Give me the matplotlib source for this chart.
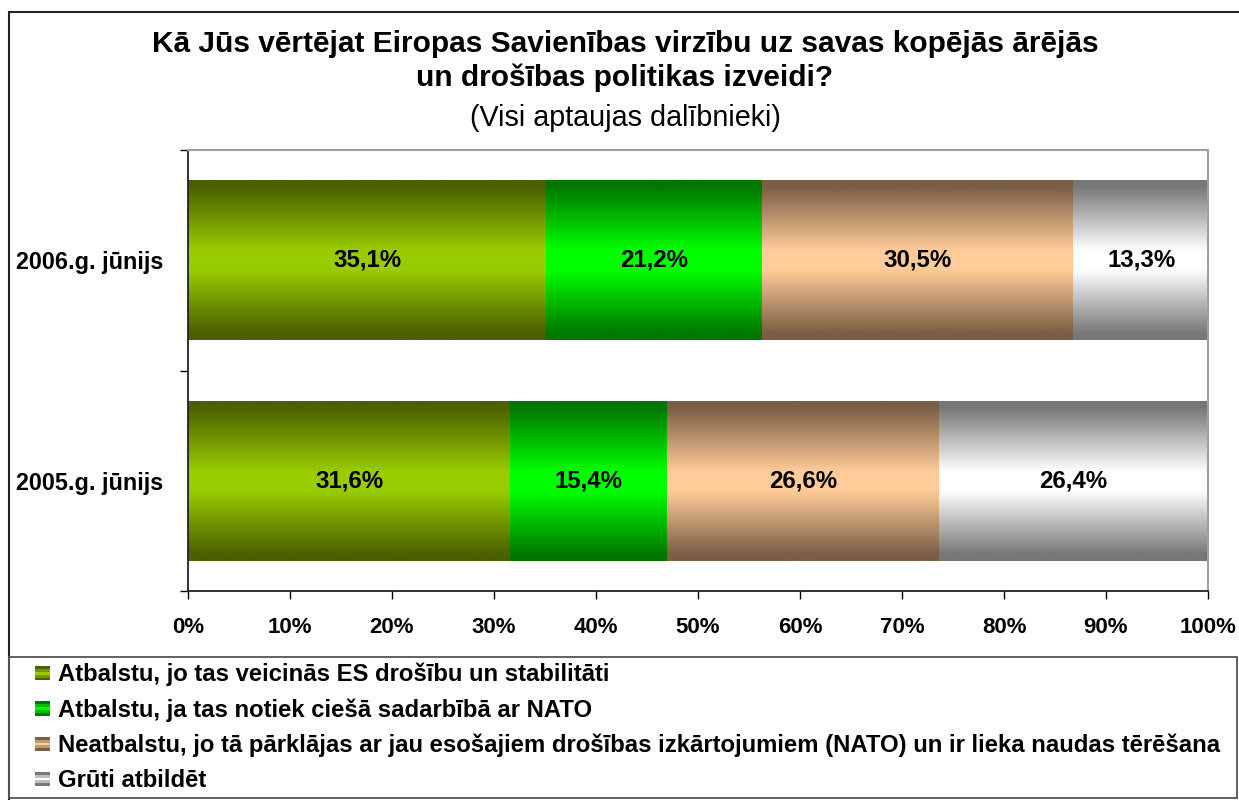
import numpy as np
import matplotlib
matplotlib.use('Agg')
import matplotlib.pyplot as plt
from matplotlib.colors import to_rgb
from matplotlib.patches import Rectangle
from matplotlib.legend_handler import HandlerBase

plt.rcParams['font.family'] = ['Liberation Sans', 'DejaVu Sans']

periods = ['2005.g. jūnijs', '2006.g. jūnijs']
answers = ['Atbalstu, jo tas veicinās ES drošību un stabilitāti',
           'Atbalstu, ja tas notiek ciešā sadarbībā ar NATO',
           'Neatbalstu, jo tā pārklājas ar jau esošajiem drošības izkārtojumiem (NATO) un ir lieka naudas tērēšana',
           'Grūti atbildēt']
values = [[31.6, 35.1],
          [15.4, 21.2],
          [26.6, 30.5],
          [26.4, 13.3]]
edge_colors = ['#4b6000', '#007700', '#7a5e45', '#777777']
mid_colors = ['#99cc00', '#00ff00', '#ffcc99', '#ffffff']

W, H = 1239, 800


def gradient(edge, mid, n=256):
    # dark at top/bottom, light in the middle
    t = np.abs(np.linspace(-1, 1, n))
    s = np.clip((t - 0.12) / 0.8, 0, 1)[:, None]
    e = np.array(to_rgb(edge))
    m = np.array(to_rgb(mid))
    return (m + (e - m) * s)[:, None, :]


class StripeHandler(HandlerBase):
    def __init__(self, edge, mid):
        super().__init__()
        self.edge = edge
        self.mid = mid

    def create_artists(self, legend, orig, x0, y0, width, height, fontsize, trans):
        g = gradient(self.edge, self.mid, 5)[:, 0, :]
        side = 10.5
        arts = []
        for i, c in enumerate(g):
            r = Rectangle((x0, y0 + (height - side) / 2 + i * side / 5), side, side / 5,
                          facecolor=c, edgecolor='none', transform=trans)
            arts.append(r)
        return arts


fig = plt.figure(figsize=(W / 100, H / 100), dpi=100)
ax = fig.add_axes([188 / W, 1 - 591 / H, (1208 - 188) / W, (591 - 150) / H])

y = np.arange(len(periods))
left = np.zeros(len(periods))
for k in range(len(answers)):
    bars = ax.barh(y, values[k], left=left, height=0.725, color='none', edgecolor='none')
    img = gradient(edge_colors[k], mid_colors[k])
    for b, v in zip(bars, values[k]):
        x0, y0 = b.get_x(), b.get_y()
        ax.imshow(img, extent=[x0, x0 + b.get_width(), y0, y0 + b.get_height()],
                  aspect='auto', origin='lower', zorder=2, interpolation='bilinear')
        ax.text(x0 + b.get_width() / 2, y0 + b.get_height() / 2, f'{v:.1f}%'.replace('.', ','),
                ha='center', va='center', fontsize=17.3, fontweight='bold', zorder=3)
    left = left + np.array(values[k])

ax.set_xlim(0, 100)
ax.set_ylim(-0.5, 1.5)
ax.set_xticks(np.arange(0, 101, 10))
ax.set_xticklabels([f'{t}%' for t in range(0, 101, 10)], fontsize=16, fontweight='bold')
ax.set_yticks([-0.5, 0.5, 1.5])
ax.set_yticklabels([])
ax.set_yticks(y, minor=True)
ax.set_yticklabels(periods, minor=True, fontsize=16.8, fontweight='bold')
ax.tick_params(axis='y', which='minor', length=0, pad=18)
ax.tick_params(axis='y', which='major', length=6, width=1, direction='out')
ax.tick_params(axis='x', length=6, width=1, direction='out', pad=13)
for s in ['top', 'right']:
    ax.spines[s].set_color('#a0a0a0')
    ax.spines[s].set_linewidth(1.5)
for s in ['left', 'bottom']:
    ax.spines[s].set_color('#222222')
    ax.spines[s].set_linewidth(1.3)

fig.text(625 / W, 1 - 44 / H, 'Kā Jūs vērtējat Eiropas Savienības virzību uz savas kopējās ārējās',
         ha='center', va='center', fontsize=21.5, fontweight='bold')
fig.text(625 / W, 1 - 78 / H, 'un drošības politikas izveidi?',
         ha='center', va='center', fontsize=21.5, fontweight='bold')
fig.text(625 / W, 1 - 118 / H, '(Visi aptaujas dalībnieki)', ha='center', va='center', fontsize=20.7)

# outer border and legend box
fig.patches.append(Rectangle((9 / W, -0.02), 1.1, 1 - 12 / H + 0.02, transform=fig.transFigure,
                             fill=False, edgecolor='#222222', linewidth=1.5))
fig.patches.append(Rectangle((9 / W, 1 - 798 / H), (1237 - 9) / W, (798 - 657) / H,
                             transform=fig.transFigure, fill=False, edgecolor='#555555', linewidth=1.3))

handles = [Rectangle((0, 0), 1, 1) for _ in answers]
hmap = {h: StripeHandler(e, m) for h, e, m in zip(handles, edge_colors, mid_colors)}
fig.legend(handles, answers, handler_map=hmap, loc='upper left',
           bbox_to_anchor=(35 / W, 1 - 663 / H), frameon=False,
           prop={'size': 17.2, 'weight': 'bold'}, labelspacing=0.5,
           handlelength=0.6, handletextpad=0.38, borderaxespad=0, borderpad=0)

fig.savefig('out.png', dpi=100)
